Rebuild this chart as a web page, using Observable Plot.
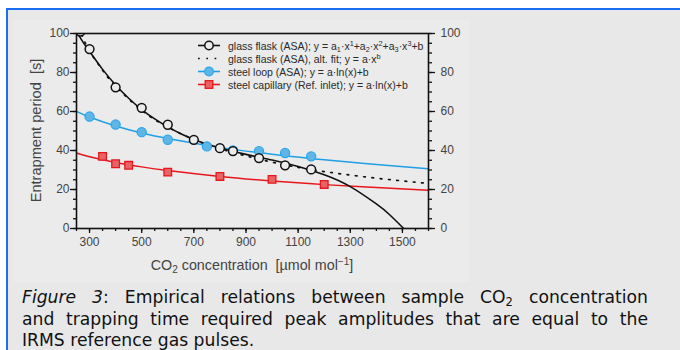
<!DOCTYPE html>
<html><head><meta charset="utf-8">
<script src="https://cdn.jsdelivr.net/npm/d3@7"></script>
<script src="https://cdn.jsdelivr.net/npm/@observablehq/plot@0.6"></script>
<style>
html,body{margin:0;padding:0;background:#fff;}
body{width:680px;height:350px;overflow:hidden;position:relative;font-family:"Liberation Sans",Arial,sans-serif;}
#box{position:absolute;left:6px;top:8px;width:720px;height:380px;border-top:2.5px solid #1a6ef2;border-left:2.5px solid #1a6ef2;background:#e8e8e8;}
#imgbg{position:absolute;left:14px;top:20px;width:456px;height:262px;background:#ebebeb;}
#chart{position:absolute;left:0;top:0;}
#legend{position:absolute;left:0;top:0;font-size:10.5px;color:#2a2a2a;}
.row{position:absolute;left:196px;height:13px;display:flex;align-items:center;white-space:nowrap;}
.row svg{flex:none;margin-right:6px;}
.sb{font-size:7.3px;position:relative;top:2.5px;}
.sp{font-size:7.3px;position:relative;top:-4px;}
#caption{position:absolute;left:22px;top:287px;width:626px;font-family:"DejaVu Sans",Verdana,sans-serif;font-size:17.2px;line-height:21.5px;color:#111;}
#caption .ln{text-align:justify;text-align-last:justify;white-space:nowrap;}
#caption .ln.last{text-align-last:left;}
#caption sub{font-size:11.5px;line-height:0;vertical-align:-3px;}
</style></head>
<body>
<div id="box"></div>
<div id="imgbg"></div>
<div id="chart"></div>
<div id="legend"></div>
<div id="caption">
<div class="ln"><i>Figure 3</i>: Empirical relations between sample CO<sub>2</sub> concentration</div>
<div class="ln">and trapping time required peak amplitudes that are equal to the</div>
<div class="ln last">IRMS reference gas pulses.</div>
</div>
<script>
// ---- data ----
const glassX = [265, 300, 400, 500, 600, 700, 800, 850, 950, 1050, 1150];
const glassY = [101, 92.0, 72.4, 61.9, 53.2, 45.5, 41.2, 39.7, 36.1, 32.4, 30.3];
const loopX = [300, 400, 500, 600, 750, 850, 950, 1050, 1150];
const loopY = [57.4, 53.3, 49.4, 45.5, 42.1, 40.0, 39.7, 38.7, 37.0];
const capX = [350, 400, 450, 600, 800, 1000, 1200];
const capY = [37.0, 33.2, 32.4, 28.9, 26.7, 25.2, 22.6];
// fitted curves
const cubicX = [250, 275, 300, 350, 400, 450, 500, 550, 600, 650, 700, 750, 800, 900, 1000, 1100, 1200, 1300, 1400, 1450, 1505, 1520];
const cubicY = [101, 95.6, 90.8, 81.6, 73.6, 66.8, 61.0, 56.2, 52.1, 48.6, 45.7, 43.3, 41.3, 38.0, 35.1, 31.8, 27.6, 21.5, 12.6, 7.2, 0, -2];
const powX = [270, 300, 350, 400, 500, 600, 700, 800, 1000, 1200, 1400, 1600];
const powY = [99.5, 91.0, 81.2, 73.0, 60.6, 52.0, 45.6, 40.9, 34.0, 29.2, 25.8, 23.1];
const fitLnX = [250, 300, 400, 500, 600, 800, 1000, 1200, 1400, 1600];
const loopFitY = [60.1, 57.2, 52.6, 49.0, 46.2, 41.6, 38.1, 35.2, 32.8, 30.6];
const capFitY = [38.7, 36.8, 33.9, 31.6, 29.7, 26.7, 24.4, 22.5, 21.0, 19.6];
// ticks
const xMajorTicks = [300, 500, 700, 900, 1100, 1300, 1500];
const xMinorTicks = [250, 300, 350, 400, 450, 500, 550, 600, 650, 700, 750, 800, 850, 900, 950, 1000, 1050, 1100, 1150, 1200, 1250, 1300, 1350, 1400, 1450, 1500, 1550, 1600];
const yMajorTicks = [0, 20, 40, 60, 80, 100];
const yMinorTicks = [0, 5, 10, 15, 20, 25, 30, 35, 40, 45, 50, 55, 60, 65, 70, 75, 80, 85, 90, 95, 100];
const legendLabels = [
  'glass flask (ASA); y = a<span class="sb">1</span>·x<span class="sp">1</span>+a<span class="sb">2</span>·x<span class="sp">2</span>+a<span class="sb">3</span>·x<span class="sp">3</span>+b',
  'glass flask (ASA), alt. fit; y = a·x<span class="sp">b</span>',
  'steel loop (ASA); y = a·ln(x)+b',
  'steel capillary (Ref. inlet); y = a·ln(x)+b'
];

const tbl = (xs, ys) => xs.map((x, i) => ({x, y: ys[i]}));
const BLACK = "#111", BLUE = "#1e9fe6", BLUEFILL = "#5fb6e6", RED = "#e8161c", REDFILL = "#e86464", BG = "#ebebeb";
const noText = () => "";
const plain = d => String(d);

const plot = Plot.plot({
  width: 470, height: 285,
  marginLeft: 76, marginRight: 42, marginTop: 33, marginBottom: 57,
  x: {domain: [250, 1600]},
  y: {domain: [0, 100]},
  style: {background: "transparent", fontFamily: "'Liberation Sans', Arial, sans-serif", fontSize: "12px", color: "#444", overflow: "visible"},
  marks: [
    Plot.line(tbl(fitLnX, capFitY), {x: "x", y: "y", stroke: RED, strokeWidth: 1.5, curve: "natural", clip: true}),
    Plot.line(tbl(fitLnX, loopFitY), {x: "x", y: "y", stroke: BLUE, strokeWidth: 1.5, curve: "natural", clip: true}),
    Plot.line(tbl(cubicX, cubicY), {x: "x", y: "y", stroke: BLACK, strokeWidth: 1.6, curve: "natural", clip: true}),
    Plot.line(tbl(powX, powY), {x: "x", y: "y", stroke: BLACK, strokeWidth: 1.7, strokeDasharray: "1.7 6.6", curve: "natural", clip: true}),
    Plot.dot(tbl(capX, capY), {x: "x", y: "y", symbol: "square", r: 4.3, fill: REDFILL, stroke: RED, strokeWidth: 1.3}),
    Plot.dot(tbl(loopX, loopY), {x: "x", y: "y", r: 4.6, fill: BLUEFILL, stroke: "#2aa6ee", strokeWidth: 1.2}),
    Plot.dot(tbl(glassX, glassY), {x: "x", y: "y", r: 4.4, fill: BG, stroke: BLACK, strokeWidth: 1.5, clip: true}),
    Plot.axisX(xMinorTicks, {tickSize: 3, tickFormat: noText, label: null, stroke: BLACK, strokeWidth: 1.3}),
    Plot.axisX(xMajorTicks, {tickSize: 5, tickPadding: 4, tickFormat: plain, label: null, stroke: BLACK, strokeWidth: 1.3, fill: "#444"}),
    Plot.axisY(yMinorTicks, {anchor: "left", tickSize: 3, tickFormat: noText, label: null, stroke: BLACK, strokeWidth: 1.3}),
    Plot.axisY(yMajorTicks, {anchor: "left", tickSize: 6, tickPadding: 1, tickFormat: plain, label: null, stroke: BLACK, strokeWidth: 1.3, fill: "#444"}),
    Plot.axisY(yMinorTicks, {anchor: "right", tickSize: 3, tickFormat: noText, label: null, stroke: BLACK, strokeWidth: 1.3}),
    Plot.axisY(yMajorTicks, {anchor: "right", tickSize: 6, tickPadding: 6, tickFormat: plain, label: null, stroke: BLACK, strokeWidth: 1.3, fill: "#444"}),
    Plot.frame({stroke: BLACK, strokeWidth: 1.6})
  ]
});
document.getElementById("chart").appendChild(plot);

// axis titles
const svg = d3.select(plot);
const fx = plot.scale("x"), fy = plot.scale("y");
const cx = (fx.range[0] + fx.range[1]) / 2, cy = (fy.range[0] + fy.range[1]) / 2;
svg.append("text")
  .attr("transform", `translate(36,${cy}) rotate(-90)`)
  .attr("text-anchor", "middle").attr("dy", "0.35em")
  .attr("fill", "#444").attr("font-size", 14.6).style("white-space", "pre")
  .text("Entrapment period  [s]");
const xt = svg.append("text")
  .attr("x", cx).attr("y", 270).attr("text-anchor", "middle")
  .attr("fill", "#444").attr("font-size", 14.3).style("white-space", "pre");
xt.append("tspan").text("CO");
xt.append("tspan").attr("dy", 3).attr("font-size", 10).text("2");
xt.append("tspan").attr("dy", -3).text(" concentration  [µmol mol");
xt.append("tspan").attr("dy", -5).attr("font-size", 10).text("−1");
xt.append("tspan").attr("dy", 5).text("]");

// legend
const legendStyles = [
  {stroke: BLACK, dash: null, marker: `<circle cx="13" cy="6.5" r="4.2" fill="${BG}" stroke="${BLACK}" stroke-width="1.5"/>`},
  {stroke: BLACK, dash: "1.7 6.6", marker: ""},
  {stroke: BLUE, dash: null, marker: `<circle cx="13" cy="6.5" r="4.4" fill="${BLUEFILL}" stroke="#2aa6ee" stroke-width="1.2"/>`},
  {stroke: RED, dash: null, marker: `<rect x="9.2" y="2.7" width="7.6" height="7.6" fill="${REDFILL}" stroke="${RED}" stroke-width="1.3"/>`}
];
const leg = document.getElementById("legend");
const rowCenters = [45.5, 58.5, 71.5, 84.5];
legendLabels.forEach((lab, i) => {
  const s = legendStyles[i];
  const row = document.createElement("div");
  row.className = "row";
  row.style.top = (rowCenters[i] - 6.5) + "px";
  row.innerHTML = `<svg width="26" height="13"><line x1="2" x2="24" y1="6.5" y2="6.5" stroke="${s.stroke}" stroke-width="1.6" ${s.dash ? `stroke-dasharray="${s.dash}"` : ""}/>${s.marker}</svg><span>${lab}</span>`;
  leg.appendChild(row);
});
</script>
</body></html>
